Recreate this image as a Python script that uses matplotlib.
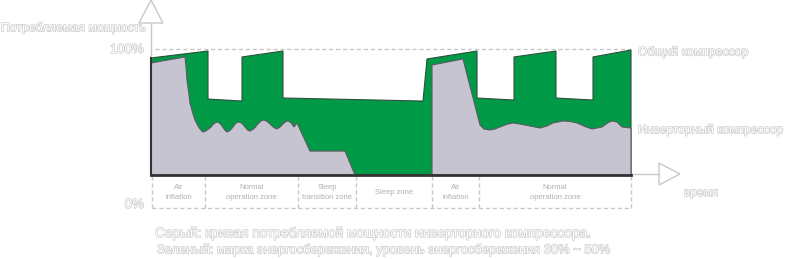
import matplotlib
matplotlib.use('Agg')
import matplotlib.pyplot as plt
import matplotlib.patheffects as pe
from matplotlib.patches import Polygon

plt.rcParams['font.family'] = ['Liberation Sans', 'DejaVu Sans']

# time axis in arbitrary units (0..480), power in % of full load
total_t = [0, 0, 57, 57, 91, 91, 132, 132, 272, 276, 326, 326, 363, 363,
           405, 405, 442, 442, 480, 480]
total_p = [0, 92.9, 98.4, 60.3, 58.7, 93.7, 98.4, 61.1, 58.7, 92.1, 98.4, 61.1,
           59.5, 93.7, 98.4, 61.1, 59.5, 93.7, 99.2, 0]

inv_t = [0, 0, 34, 35, 36, 38, 39, 42, 44, 47, 49, 52, 55, 59, 63, 66, 69, 71, 74, 76,
         79, 82, 85, 88, 91, 94, 97, 99, 103, 106, 110, 113, 116, 119, 123, 126,
         129, 132, 135, 137, 140, 143, 146, 159, 194, 204, 281, 281, 312, 329, 333,
         339, 344, 349, 356, 362, 370, 379, 389, 396, 402, 412, 419, 426, 434, 441,
         451, 457, 461, 466, 471, 480, 480]
inv_p = [0, 88.9, 93.7, 86.0, 75.4, 64.0, 57.1, 48.5, 43.7, 39.0, 36.5, 34.1, 35.0, 37.3,
         40.8, 42.1, 41.0, 38.9, 35.5, 34.1, 35.3, 38.1, 41.3, 42.1, 41.0, 38.1,
         35.5, 34.9, 36.8, 39.7, 42.9, 43.7, 42.5, 40.5, 37.6, 36.5, 38.0, 40.5,
         42.5, 42.9, 41.5, 38.1, 41.3, 19.0, 19.0, 0, 0, 87.3, 92.1, 39.7, 36.5,
         35.7, 36.5, 38.1, 40.3, 41.3, 40.3, 38.9, 37.3, 38.9, 41.3, 42.9, 42.5,
         41.3, 38.5, 36.5, 38.1, 41.5, 42.9, 42.1, 38.1, 37.3, 0]

zone_edges = [1, 54, 147, 205, 281, 328, 480]
zone_names = ['Air\ninflation', 'Normal\noperation zone', 'Sleep\ntransition zone',
              'Sleep zone', 'Air\ninflation', 'Normal\noperation zone']

y_title = 'Потребляемая мощность'
x_title = 'время'
total_name = 'Общий компрессор'
inv_name = 'Инверторный компрессор'
note1 = 'Серый: кривая потребляемой мощности инверторного компрессора.'
note2 = 'Зеленый: марка энергосбережения, уровень энергосбережения 30% ~ 50%'

green = '#009a47'
grey = '#c6c4d0'
line_c = '#c8c8c8'
txt_c = '#c8c8c8'

fig = plt.figure(figsize=(7.88, 2.59), dpi=100)
ax = fig.add_axes([151 / 788, 84 / 259, 480 / 788, 126 / 259])
ax.set_xlim(0, 480)
ax.set_ylim(0, 100)
ax.axis('off')

ax.add_patch(Polygon(list(zip(total_t, total_p)), closed=True, facecolor=green,
                     edgecolor='#2f4f3a', lw=0.8, clip_on=False, zorder=2))
ax.add_patch(Polygon(list(zip(inv_t, inv_p)), closed=True, facecolor=grey,
                     edgecolor='#5a5a60', lw=0.8, clip_on=False, zorder=3))

# dark base and left edge
ax.plot([0, 480], [0, 0], color='#333333', lw=2, clip_on=False, zorder=4)
ax.plot([0, 0], [0, 92.9], color='#333333', lw=1.5, clip_on=False, zorder=4)

# 100% dashed line
ax.plot([4, 480], [100, 100], color=line_c, lw=1, ls=(0, (3, 2)), clip_on=False, zorder=1)

# y arrow
ax.plot([0, 0], [93, 120.6], color=line_c, lw=1, clip_on=False)
ax.add_patch(Polygon([(-12, 120.6), (12, 120.6), (0, 138.9)], closed=True,
                     facecolor='white', edgecolor=line_c, lw=1, clip_on=False))
# x arrow
ax.plot([480, 508], [0.8, 0.8], color=line_c, lw=1, clip_on=False)
ax.add_patch(Polygon([(508, 9.5), (508, -7.9), (529, 0.8)], closed=True,
                     facecolor='white', edgecolor=line_c, lw=1, clip_on=False))

# zone boxes
zone_bottom = -26.2
for e in zone_edges:
    ax.plot([e, e], [-0.8, zone_bottom], color=line_c, lw=1, ls=(0, (3, 2)), clip_on=False)
ax.plot([zone_edges[0], zone_edges[-1]], [zone_bottom, zone_bottom], color=line_c, lw=1,
        ls=(0, (3, 2)), clip_on=False)
for i, name in enumerate(zone_names):
    cx = (zone_edges[i] + zone_edges[i + 1]) / 2
    ax.text(cx, -14.0, name, ha='center', va='center', fontsize=5.5, color='#b0b0b0',
            linespacing=1.55)

outline = [pe.withStroke(linewidth=0.9, foreground=txt_c)]


def hollow(x, y, s, size, **kw):
    ax.text(x, y, s, color='white', path_effects=outline, fontsize=size, **kw)


hollow(-5, 116.7, y_title, 8.9, ha='right', va='center')
hollow(-7, 99.2, '100%', 9.5, ha='right', va='center')
hollow(-7, -23.8, '0%', 9.5, ha='right', va='center')
hollow(487, 97.6, total_name, 8.8, ha='left', va='center')
hollow(487, 35.7, inv_name, 8.7, ha='left', va='center')
hollow(550, -14.3, x_title, 8.6, ha='center', va='center')
hollow(4, -46.0, note1, 9.85, ha='left', va='center')
hollow(6, -59.5, note2, 9.3, ha='left', va='center')

fig.savefig('out.png', dpi=100)
